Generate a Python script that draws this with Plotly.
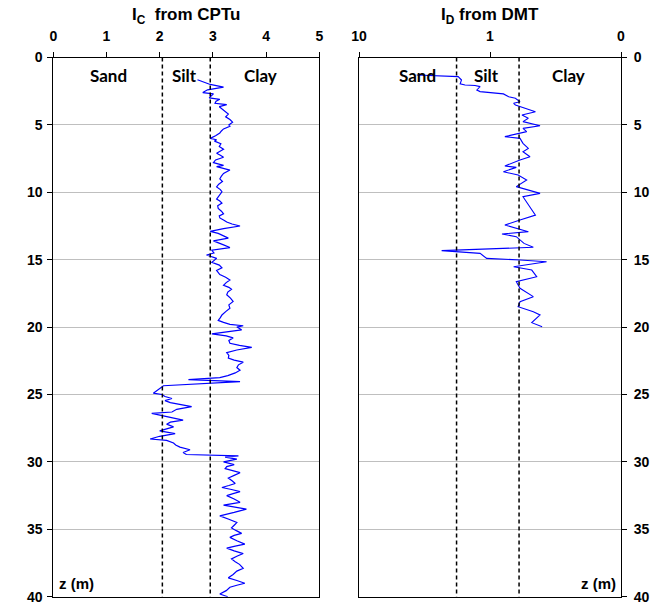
import plotly.graph_objects as go

# ---------------- CPTu soil behaviour type index, Ic ----------------
depth_cptu = [
    1.65, 2.0, 2.2, 2.4, 2.6, 2.7, 2.85, 3.0, 3.1, 3.25, 3.4, 3.5, 3.65, 3.8, 4.0, 4.2, 4.4, 4.6, 4.8, 5.0,
    5.1, 5.3, 5.45, 5.6, 5.8, 6.0, 6.1, 6.2, 6.4, 6.6, 6.8, 7.0, 7.1, 7.25, 7.4, 7.6, 7.8, 8.0, 8.1, 8.35,
    8.6, 8.8, 9.0, 9.2, 9.4, 9.6, 9.8, 9.96,
    10.2, 10.5, 10.65, 10.8, 11.0, 11.2, 11.4, 11.6, 11.75, 11.9, 12.05, 12.2, 12.35, 12.5, 12.7, 12.9,
    13.05, 13.2, 13.4, 13.6, 13.75, 13.9, 14.1, 14.3, 14.5, 14.65, 14.9,
    15.05, 15.2, 15.4, 15.6, 15.8, 16.0, 16.1, 16.3, 16.5, 16.7, 16.9, 17.05, 17.2, 17.4, 17.6, 17.85,
    18.1, 18.35, 18.6, 18.85, 19.1, 19.3, 19.5, 19.65, 19.8, 19.9, 20.0,
    20.2, 20.35, 20.5, 20.65, 20.8, 21.0, 21.2, 21.35, 21.5, 21.7, 21.9, 22.1, 22.3, 22.45, 22.6, 22.8,
    23.0, 23.2, 23.4, 23.6, 23.75, 23.9, 24.05,
    24.35, 24.6, 24.9, 25.0, 25.15, 25.3, 25.45, 25.6, 25.75, 25.9, 26.1, 26.3, 26.4, 26.6, 26.75, 26.9,
    27.05, 27.2, 27.4, 27.55, 27.7, 27.9, 28.1, 28.3, 28.4, 28.6, 28.75, 28.9, 29.1, 29.3, 29.45,
    29.55, 29.65, 29.8, 30.0, 30.2, 30.35, 30.5, 30.65, 30.8, 31.0, 31.2, 31.4, 31.6, 31.75, 31.9, 32.05,
    32.2, 32.35, 32.5, 32.75, 33.0, 33.2, 33.5, 33.75, 34.0, 34.25, 34.5, 34.7, 34.9, 35.1, 35.3, 35.45,
    35.6, 35.85, 36.1, 36.25, 36.4, 36.6, 36.8, 37.0, 37.2, 37.4, 37.6, 37.9, 38.1, 38.35, 38.6, 38.8,
    39.0, 39.15, 39.3, 39.55, 39.8, 40.0,
]
ic_cptu = [
    2.71, 2.95, 3.20, 2.90, 2.81, 3.01, 2.97, 2.93, 3.13, 3.06, 3.04, 3.26, 3.12, 3.17, 3.22, 3.29, 3.24, 3.32, 3.37, 3.30,
    3.32, 3.20, 3.16, 3.13, 3.05, 2.95, 3.07, 3.03, 3.15, 3.12, 3.20, 3.10, 3.07, 3.14, 3.20, 3.05, 3.01, 3.20, 3.07, 3.32,
    3.20, 3.16, 3.13, 3.18, 3.11, 3.07, 3.14, 3.17,
    3.12, 3.07, 3.13, 3.17, 3.09, 3.10, 3.16, 3.20, 3.12, 3.13, 3.20, 3.26, 3.36, 3.51, 3.20, 2.95,
    3.10, 3.17, 3.29, 3.01, 3.12, 3.20, 3.32, 2.98, 3.02, 2.88, 3.07,
    3.02, 2.98, 3.12, 3.17, 3.07, 3.11, 3.13, 3.24, 3.32, 3.25, 3.20, 3.30, 3.35, 3.28, 3.26, 3.33,
    3.38, 3.30, 3.32, 3.24, 3.17, 3.14, 3.10, 3.20, 3.32, 3.57, 3.45,
    3.54, 3.30, 2.98, 3.25, 3.38, 3.30, 3.32, 3.50, 3.73, 3.45, 3.26, 3.30, 3.29, 3.40, 3.57, 3.48,
    3.45, 3.51, 3.42, 3.28, 3.13, 2.54, 3.51,
    2.07, 1.98, 1.88, 2.04, 2.10, 2.23, 2.10, 2.20, 2.40, 2.60, 2.32, 2.23, 1.85, 2.07, 2.25, 2.44,
    2.20, 2.13, 2.26, 2.10, 2.00, 2.29, 2.00, 1.82, 2.13, 2.26, 2.30, 2.38, 2.57, 2.44, 2.50,
    3.48, 3.23, 3.45, 3.20, 3.40, 3.26, 3.23, 3.38, 3.51, 3.40, 3.29, 3.36, 3.42, 3.30, 3.17, 3.35,
    3.51, 3.38, 3.26, 3.40, 3.51, 3.20, 3.63, 3.40, 3.13, 3.30, 3.45, 3.40, 3.35, 3.44, 3.54, 3.40,
    3.32, 3.45, 3.60, 3.42, 3.26, 3.40, 3.57, 3.45, 3.35, 3.42, 3.50, 3.57, 3.45, 3.38, 3.29, 3.45,
    3.60, 3.45, 3.32, 3.25, 3.13, 3.28,
]

# ---------------- DMT material index, ID ----------------
depth_dmt = [
    1.30, 1.38, 1.42, 1.67, 1.95, 2.04, 2.08, 2.16, 2.41, 2.53, 2.70, 2.91, 3.03, 3.28, 3.40, 3.52,
    4.02, 4.27, 4.51, 4.76, 5.06, 5.26, 5.50, 5.87, 6.00, 6.37, 6.74, 6.99, 7.36, 7.60, 8.05, 8.15,
    8.47, 8.72, 9.09, 9.58, 10.08, 10.33, 10.94, 11.69, 12.06, 12.43, 12.92, 13.09, 13.29, 13.79,
    14.08, 14.33, 14.53, 14.90, 15.02, 15.15, 15.52, 15.77, 16.26, 16.63, 17.12, 17.74, 18.12,
    18.49, 18.86, 19.10, 19.67, 19.97,
]
id_dmt = [
    3.63, 2.55, 1.75, 1.65, 1.69, 1.55, 1.30, 1.19, 1.26, 1.19, 0.79, 0.72, 0.64, 0.59, 0.66, 0.64,
    0.45, 0.57, 0.51, 0.56, 0.415, 0.56, 0.525, 0.77, 0.59, 0.56, 0.51, 0.56, 0.495, 0.59, 0.77, 0.63,
    0.79, 0.61, 0.525, 0.63, 0.415, 0.56, 0.51, 0.45, 0.59, 0.77, 0.51, 0.81, 0.63, 0.55,
    0.467, 2.34, 1.19, 1.06, 0.59, 0.37, 0.66, 0.48, 0.44, 0.63, 0.59, 0.467, 0.59,
    0.61, 0.467, 0.415, 0.48, 0.40,
]

# Soil classification boundaries
ic_bounds = [2.05, 2.95]
id_bounds = [1.8, 0.6]
zone_names = ["Sand", "Silt", "Clay"]

depth_ticks = [0, 5, 10, 15, 20, 25, 30, 35, 40]
ic_ticks = [0, 1, 2, 3, 4, 5]
id_tickvals = [10, 1, 0.1]
id_ticktext = ["10", "1", "0"]

W, H = 664, 605
FONT = "Liberation Sans"
LABEL_FONT = "Lato"

fig = go.Figure()

fig.add_trace(go.Scatter(x=ic_cptu, y=depth_cptu, mode="lines",
                         line=dict(color="#0000FF", width=1.2), xaxis="x", yaxis="y",
                         showlegend=False))
fig.add_trace(go.Scatter(x=id_dmt, y=depth_dmt, mode="lines",
                         line=dict(color="#0000FF", width=1.1), xaxis="x2", yaxis="y2",
                         showlegend=False))

# dashed boundaries
for b in ic_bounds:
    fig.add_trace(go.Scatter(x=[b, b], y=[0, 40], mode="lines",
                             line=dict(color="black", width=1.5, dash="4px,3px"),
                             xaxis="x", yaxis="y", showlegend=False, hoverinfo="skip"))
for b in id_bounds:
    fig.add_trace(go.Scatter(x=[b, b], y=[0, 40], mode="lines",
                             line=dict(color="black", width=1.5, dash="4px,3px"),
                             xaxis="x2", yaxis="y2", showlegend=False, hoverinfo="skip"))

left_px = (53.3, 319.3)
right_px = (359.0, 621.0)
top_px, bot_px = 57.5, 596.7
ydom = [(H - bot_px) / H, (H - top_px) / H]

tickfont = dict(family=FONT, size=14, color="black", weight="bold")
common_axis = dict(showline=True, linecolor="black", linewidth=1, mirror=True,
                   ticks="outside", ticklen=5, tickcolor="black", tickfont=tickfont,
                   zeroline=False, automargin=False)

fig.update_layout(
    width=W, height=H,
    margin=dict(l=0, r=0, t=0, b=0),
    paper_bgcolor="white", plot_bgcolor="white",
    xaxis=dict(domain=[left_px[0] / W, left_px[1] / W], range=[0, 5], tickvals=ic_ticks,
               side="top", anchor="y", showgrid=False, ticklabelstandoff=5, **common_axis),
    yaxis=dict(domain=ydom, range=[40, 0], tickvals=depth_ticks, anchor="x",
               showgrid=True, gridcolor="#BFBFBF", gridwidth=1, ticklabelstandoff=2,
               **common_axis),
    xaxis2=dict(domain=[right_px[0] / W, right_px[1] / W], type="log", range=[1, -1],
                tickvals=id_tickvals, ticktext=id_ticktext, side="top", anchor="y2",
                showgrid=False, ticklabelstandoff=5, **common_axis),
    yaxis2=dict(domain=ydom, range=[40, 0], tickvals=depth_ticks, anchor="x2", side="right",
                showgrid=True, gridcolor="#BFBFBF", gridwidth=1, ticklabelstandoff=4,
                **common_axis),
)

title_font = dict(family=FONT, size=17, color="black", weight="bold")
zone_font = dict(family=LABEL_FONT, size=17, color="black", weight="bold")
z_font = dict(family=FONT, size=15, color="black", weight="bold")

annotations = [
    dict(text="I<sub>C</sub>  from CPTu", x=(left_px[0] + left_px[1]) / 2 / W, y=1 - 16 / H,
         xref="paper", yref="paper", showarrow=False, font=title_font,
         xanchor="center", yanchor="middle"),
    dict(text="I<sub>D</sub> from DMT", x=(right_px[0] + right_px[1]) / 2 / W, y=1 - 16 / H,
         xref="paper", yref="paper", showarrow=False, font=title_font,
         xanchor="center", yanchor="middle"),
    dict(text="z (m)", x=57 / W, y=1 - 583 / H, xref="paper", yref="paper", showarrow=False,
         font=z_font, xanchor="left", yanchor="middle"),
    dict(text="z (m)", x=618 / W, y=1 - 583 / H, xref="paper", yref="paper", showarrow=False,
         font=z_font, xanchor="right", yanchor="middle"),
]
left_zone_x = [108, 184, 260]
right_zone_x = [417, 486, 568]
for name, lx, rx in zip(zone_names, left_zone_x, right_zone_x):
    for px in (lx, rx):
        annotations.append(dict(text=name, x=px / W, y=1 - 75 / H, xref="paper", yref="paper",
                                showarrow=False, font=zone_font,
                                xanchor="center", yanchor="middle"))
fig.update_layout(annotations=annotations)

fig.write_html("out.html")
